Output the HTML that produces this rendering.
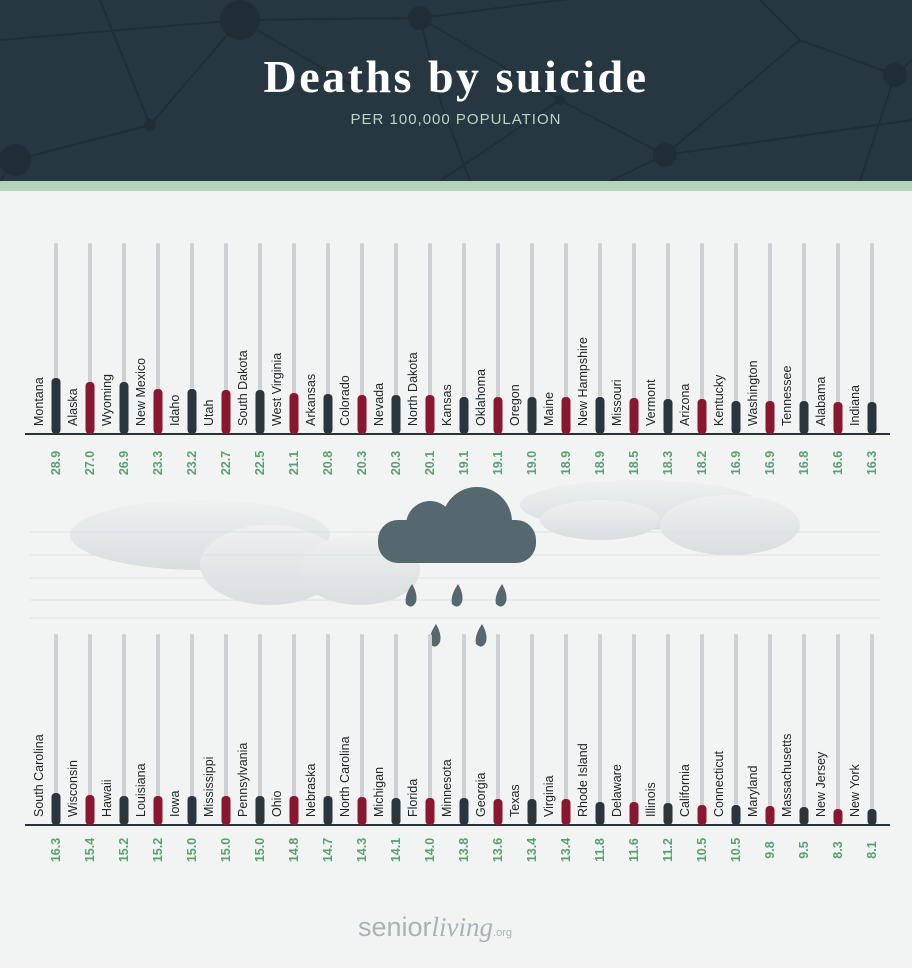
<!DOCTYPE html>
<html><head><meta charset="utf-8"><style>
html,body{margin:0;padding:0;width:912px;height:968px;overflow:hidden;background:#f2f4f4}
svg{display:block}
.l{font-family:"Liberation Sans",sans-serif;font-size:12.5px;fill:#1e2326}
.v{font-family:"Liberation Sans",sans-serif;font-size:12.5px;font-weight:bold;fill:#5aa070;text-anchor:middle}
</style></head><body>
<svg width="912" height="968" viewBox="0 0 912 968" xmlns="http://www.w3.org/2000/svg">
<defs>
<linearGradient id="cg" x1="0" y1="0" x2="0" y2="1"><stop offset="0" stop-color="#eef0f1"/><stop offset="1" stop-color="#dadee0"/></linearGradient>
</defs>
<rect x="0" y="0" width="912" height="968" fill="#f2f4f4"/>
<!-- header -->
<rect x="0" y="0" width="912" height="181" fill="#273742"/>
<g stroke="#1f2e37" stroke-width="2" fill="none">
<path d="M0 40 L240 20 L420 18 L600 -5 M240 20 L150 125 L15 160 M150 125 L100 0 M420 18 L440 100 L470 181 M420 18 L560 100 L665 155 L610 181 M665 155 L800 40 L895 75 L912 60 M895 75 L860 181 M800 40 L760 0 M560 100 L440 181 M15 160 L0 181 M665 155 L912 120 M240 20 L360 90"/>
</g>
<g fill="#1f2e37"><circle cx="240" cy="20" r="20"/><circle cx="420" cy="18" r="12"/><circle cx="15" cy="160" r="16"/><circle cx="150" cy="125" r="6"/><circle cx="665" cy="155" r="12"/><circle cx="895" cy="75" r="12"/><circle cx="560" cy="100" r="5"/></g>
<rect x="0" y="181" width="912" height="10" fill="#b5d3bb"/>
<text x="456" y="92" text-anchor="middle" font-family="Liberation Serif,serif" font-weight="bold" font-size="46" letter-spacing="2.5" fill="#ffffff">Deaths by suicide</text>
<text x="456" y="124" text-anchor="middle" font-family="Liberation Sans,sans-serif" font-size="15" letter-spacing="1" fill="#b9d5c2">PER 100,000 POPULATION</text>
<!-- background clouds & grid -->
<g fill="url(#cg)">
<ellipse cx="200" cy="535" rx="130" ry="35"/><ellipse cx="270" cy="565" rx="70" ry="40"/><ellipse cx="360" cy="570" rx="60" ry="35"/>
<ellipse cx="640" cy="505" rx="120" ry="25"/><ellipse cx="730" cy="525" rx="70" ry="30"/><ellipse cx="600" cy="520" rx="60" ry="20"/>
</g>
<g stroke="#dde1e3" stroke-width="1">
<line x1="30" y1="532" x2="880" y2="532"/><line x1="30" y1="555" x2="880" y2="555"/><line x1="30" y1="578" x2="880" y2="578"/><line x1="30" y1="600" x2="880" y2="600"/><line x1="30" y1="618" x2="880" y2="618"/>
</g>
<!-- main cloud -->
<g fill="#56686f">
<circle cx="430" cy="525" r="24"/><circle cx="477" cy="522" r="35"/><rect x="378" y="520" width="158" height="43" rx="20"/>
<rect x="420" y="515" width="90" height="30"/>
<path d="M412 584 q-8 12 -6 20 q6 6 10 -2 q2 -8 -4 -18z"/><path d="M458 584 q-8 12 -6 20 q6 6 10 -2 q2 -8 -4 -18z"/><path d="M502 584 q-8 12 -6 20 q6 6 10 -2 q2 -8 -4 -18z"/>
<path d="M436 624 q-8 12 -6 20 q6 6 10 -2 q2 -8 -4 -18z"/><path d="M482 624 q-8 12 -6 20 q6 6 10 -2 q2 -8 -4 -18z"/>
</g>
<!-- tracks -->
<g stroke="#cdd1d3" stroke-width="4" stroke-linecap="round">
<path d="M56 245V432M90 245V432M124 245V432M158 245V432M192 245V432M226 245V432M260 245V432M294 245V432M328 245V432M362 245V432M396 245V432M430 245V432M464 245V432M498 245V432M532 245V432M566 245V432M600 245V432M634 245V432M668 245V432M702 245V432M736 245V432M770 245V432M804 245V432M838 245V432M872 245V432"/>
<path d="M56 636V823M90 636V823M124 636V823M158 636V823M192 636V823M226 636V823M260 636V823M294 636V823M328 636V823M362 636V823M396 636V823M430 636V823M464 636V823M498 636V823M532 636V823M566 636V823M600 636V823M634 636V823M668 636V823M702 636V823M736 636V823M770 636V823M804 636V823M838 636V823M872 636V823"/>
</g>
<line x1="25" y1="434" x2="890" y2="434" stroke="#2a3238" stroke-width="2"/>
<line x1="25" y1="825" x2="890" y2="825" stroke="#2a3238" stroke-width="2"/>
<!-- top bulbs -->
<g>
<rect x="51.5" y="378" width="9" height="56" rx="4" fill="#2a363e"/>
<rect x="85.5" y="382" width="9" height="52" rx="4" fill="#8a1730"/>
<rect x="119.5" y="382" width="9" height="52" rx="4" fill="#2a363e"/>
<rect x="153.5" y="389" width="9" height="45" rx="4" fill="#8a1730"/>
<rect x="187.5" y="389" width="9" height="45" rx="4" fill="#2a363e"/>
<rect x="221.5" y="390" width="9" height="44" rx="4" fill="#8a1730"/>
<rect x="255.5" y="390" width="9" height="44" rx="4" fill="#2a363e"/>
<rect x="289.5" y="393" width="9" height="41" rx="4" fill="#8a1730"/>
<rect x="323.5" y="394" width="9" height="40" rx="4" fill="#2a363e"/>
<rect x="357.5" y="395" width="9" height="39" rx="4" fill="#8a1730"/>
<rect x="391.5" y="395" width="9" height="39" rx="4" fill="#2a363e"/>
<rect x="425.5" y="395" width="9" height="39" rx="4" fill="#8a1730"/>
<rect x="459.5" y="397" width="9" height="37" rx="4" fill="#2a363e"/>
<rect x="493.5" y="397" width="9" height="37" rx="4" fill="#8a1730"/>
<rect x="527.5" y="397" width="9" height="37" rx="4" fill="#2a363e"/>
<rect x="561.5" y="397" width="9" height="37" rx="4" fill="#8a1730"/>
<rect x="595.5" y="397" width="9" height="37" rx="4" fill="#2a363e"/>
<rect x="629.5" y="398" width="9" height="36" rx="4" fill="#8a1730"/>
<rect x="663.5" y="399" width="9" height="35" rx="4" fill="#2a363e"/>
<rect x="697.5" y="399" width="9" height="35" rx="4" fill="#8a1730"/>
<rect x="731.5" y="401" width="9" height="33" rx="4" fill="#2a363e"/>
<rect x="765.5" y="401" width="9" height="33" rx="4" fill="#8a1730"/>
<rect x="799.5" y="401" width="9" height="33" rx="4" fill="#2a363e"/>
<rect x="833.5" y="402" width="9" height="32" rx="4" fill="#8a1730"/>
<rect x="867.5" y="402" width="9" height="32" rx="4" fill="#2a363e"/>
</g>
<!-- bottom bulbs -->
<g>
<rect x="51.5" y="793" width="9" height="32" rx="4" fill="#2a363e"/>
<rect x="85.5" y="795" width="9" height="30" rx="4" fill="#8a1730"/>
<rect x="119.5" y="796" width="9" height="29" rx="4" fill="#2a363e"/>
<rect x="153.5" y="796" width="9" height="29" rx="4" fill="#8a1730"/>
<rect x="187.5" y="796" width="9" height="29" rx="4" fill="#2a363e"/>
<rect x="221.5" y="796" width="9" height="29" rx="4" fill="#8a1730"/>
<rect x="255.5" y="796" width="9" height="29" rx="4" fill="#2a363e"/>
<rect x="289.5" y="796" width="9" height="29" rx="4" fill="#8a1730"/>
<rect x="323.5" y="796" width="9" height="29" rx="4" fill="#2a363e"/>
<rect x="357.5" y="797" width="9" height="28" rx="4" fill="#8a1730"/>
<rect x="391.5" y="798" width="9" height="27" rx="4" fill="#2a363e"/>
<rect x="425.5" y="798" width="9" height="27" rx="4" fill="#8a1730"/>
<rect x="459.5" y="798" width="9" height="27" rx="4" fill="#2a363e"/>
<rect x="493.5" y="799" width="9" height="26" rx="4" fill="#8a1730"/>
<rect x="527.5" y="799" width="9" height="26" rx="4" fill="#2a363e"/>
<rect x="561.5" y="799" width="9" height="26" rx="4" fill="#8a1730"/>
<rect x="595.5" y="802" width="9" height="23" rx="4" fill="#2a363e"/>
<rect x="629.5" y="802" width="9" height="23" rx="4" fill="#8a1730"/>
<rect x="663.5" y="803" width="9" height="22" rx="4" fill="#2a363e"/>
<rect x="697.5" y="805" width="9" height="20" rx="4" fill="#8a1730"/>
<rect x="731.5" y="805" width="9" height="20" rx="4" fill="#2a363e"/>
<rect x="765.5" y="806" width="9" height="19" rx="4" fill="#8a1730"/>
<rect x="799.5" y="807" width="9" height="18" rx="4" fill="#2a363e"/>
<rect x="833.5" y="809" width="9" height="16" rx="4" fill="#8a1730"/>
<rect x="867.5" y="809" width="9" height="16" rx="4" fill="#2a363e"/>
</g>
<!-- top labels -->
<g class="l">
<text transform="translate(43,426) rotate(-90)">Montana</text>
<text transform="translate(77,426) rotate(-90)">Alaska</text>
<text transform="translate(111,426) rotate(-90)">Wyoming</text>
<text transform="translate(145,426) rotate(-90)">New Mexico</text>
<text transform="translate(179,426) rotate(-90)">Idaho</text>
<text transform="translate(213,426) rotate(-90)">Utah</text>
<text transform="translate(247,426) rotate(-90)">South Dakota</text>
<text transform="translate(281,426) rotate(-90)">West Virginia</text>
<text transform="translate(315,426) rotate(-90)">Arkansas</text>
<text transform="translate(349,426) rotate(-90)">Colorado</text>
<text transform="translate(383,426) rotate(-90)">Nevada</text>
<text transform="translate(417,426) rotate(-90)">North Dakota</text>
<text transform="translate(451,426) rotate(-90)">Kansas</text>
<text transform="translate(485,426) rotate(-90)">Oklahoma</text>
<text transform="translate(519,426) rotate(-90)">Oregon</text>
<text transform="translate(553,426) rotate(-90)">Maine</text>
<text transform="translate(587,426) rotate(-90)">New Hampshire</text>
<text transform="translate(621,426) rotate(-90)">Missouri</text>
<text transform="translate(655,426) rotate(-90)">Vermont</text>
<text transform="translate(689,426) rotate(-90)">Arizona</text>
<text transform="translate(723,426) rotate(-90)">Kentucky</text>
<text transform="translate(757,426) rotate(-90)">Washington</text>
<text transform="translate(791,426) rotate(-90)">Tennessee</text>
<text transform="translate(825,426) rotate(-90)">Alabama</text>
<text transform="translate(859,426) rotate(-90)">Indiana</text>
</g>
<g class="v">
<text transform="translate(60,463) rotate(-90)">28.9</text>
<text transform="translate(94,463) rotate(-90)">27.0</text>
<text transform="translate(128,463) rotate(-90)">26.9</text>
<text transform="translate(162,463) rotate(-90)">23.3</text>
<text transform="translate(196,463) rotate(-90)">23.2</text>
<text transform="translate(230,463) rotate(-90)">22.7</text>
<text transform="translate(264,463) rotate(-90)">22.5</text>
<text transform="translate(298,463) rotate(-90)">21.1</text>
<text transform="translate(332,463) rotate(-90)">20.8</text>
<text transform="translate(366,463) rotate(-90)">20.3</text>
<text transform="translate(400,463) rotate(-90)">20.3</text>
<text transform="translate(434,463) rotate(-90)">20.1</text>
<text transform="translate(468,463) rotate(-90)">19.1</text>
<text transform="translate(502,463) rotate(-90)">19.1</text>
<text transform="translate(536,463) rotate(-90)">19.0</text>
<text transform="translate(570,463) rotate(-90)">18.9</text>
<text transform="translate(604,463) rotate(-90)">18.9</text>
<text transform="translate(638,463) rotate(-90)">18.5</text>
<text transform="translate(672,463) rotate(-90)">18.3</text>
<text transform="translate(706,463) rotate(-90)">18.2</text>
<text transform="translate(740,463) rotate(-90)">16.9</text>
<text transform="translate(774,463) rotate(-90)">16.9</text>
<text transform="translate(808,463) rotate(-90)">16.8</text>
<text transform="translate(842,463) rotate(-90)">16.6</text>
<text transform="translate(876,463) rotate(-90)">16.3</text>
</g>
<!-- bottom labels -->
<g class="l">
<text transform="translate(43,817) rotate(-90)">South Carolina</text>
<text transform="translate(77,817) rotate(-90)">Wisconsin</text>
<text transform="translate(111,817) rotate(-90)">Hawaii</text>
<text transform="translate(145,817) rotate(-90)">Louisiana</text>
<text transform="translate(179,817) rotate(-90)">Iowa</text>
<text transform="translate(213,817) rotate(-90)">Mississippi</text>
<text transform="translate(247,817) rotate(-90)">Pennsylvania</text>
<text transform="translate(281,817) rotate(-90)">Ohio</text>
<text transform="translate(315,817) rotate(-90)">Nebraska</text>
<text transform="translate(349,817) rotate(-90)">North Carolina</text>
<text transform="translate(383,817) rotate(-90)">Michigan</text>
<text transform="translate(417,817) rotate(-90)">Florida</text>
<text transform="translate(451,817) rotate(-90)">Minnesota</text>
<text transform="translate(485,817) rotate(-90)">Georgia</text>
<text transform="translate(519,817) rotate(-90)">Texas</text>
<text transform="translate(553,817) rotate(-90)">Virginia</text>
<text transform="translate(587,817) rotate(-90)">Rhode Island</text>
<text transform="translate(621,817) rotate(-90)">Delaware</text>
<text transform="translate(655,817) rotate(-90)">Illinois</text>
<text transform="translate(689,817) rotate(-90)">California</text>
<text transform="translate(723,817) rotate(-90)">Connecticut</text>
<text transform="translate(757,817) rotate(-90)">Maryland</text>
<text transform="translate(791,817) rotate(-90)">Massachusetts</text>
<text transform="translate(825,817) rotate(-90)">New Jersey</text>
<text transform="translate(859,817) rotate(-90)">New York</text>
</g>
<g class="v">
<text transform="translate(60,850) rotate(-90)">16.3</text>
<text transform="translate(94,850) rotate(-90)">15.4</text>
<text transform="translate(128,850) rotate(-90)">15.2</text>
<text transform="translate(162,850) rotate(-90)">15.2</text>
<text transform="translate(196,850) rotate(-90)">15.0</text>
<text transform="translate(230,850) rotate(-90)">15.0</text>
<text transform="translate(264,850) rotate(-90)">15.0</text>
<text transform="translate(298,850) rotate(-90)">14.8</text>
<text transform="translate(332,850) rotate(-90)">14.7</text>
<text transform="translate(366,850) rotate(-90)">14.3</text>
<text transform="translate(400,850) rotate(-90)">14.1</text>
<text transform="translate(434,850) rotate(-90)">14.0</text>
<text transform="translate(468,850) rotate(-90)">13.8</text>
<text transform="translate(502,850) rotate(-90)">13.6</text>
<text transform="translate(536,850) rotate(-90)">13.4</text>
<text transform="translate(570,850) rotate(-90)">13.4</text>
<text transform="translate(604,850) rotate(-90)">11.8</text>
<text transform="translate(638,850) rotate(-90)">11.6</text>
<text transform="translate(672,850) rotate(-90)">11.2</text>
<text transform="translate(706,850) rotate(-90)">10.5</text>
<text transform="translate(740,850) rotate(-90)">10.5</text>
<text transform="translate(774,850) rotate(-90)">9.8</text>
<text transform="translate(808,850) rotate(-90)">9.5</text>
<text transform="translate(842,850) rotate(-90)">8.3</text>
<text transform="translate(876,850) rotate(-90)">8.1</text>
</g>
<!-- footer -->
<text x="358" y="936" font-family="Liberation Sans,sans-serif" font-size="27" fill="#a9b2b6">senior<tspan font-family="Liberation Serif,serif" font-style="italic">living</tspan><tspan font-size="11">.org</tspan></text>
</svg>
</body></html>
